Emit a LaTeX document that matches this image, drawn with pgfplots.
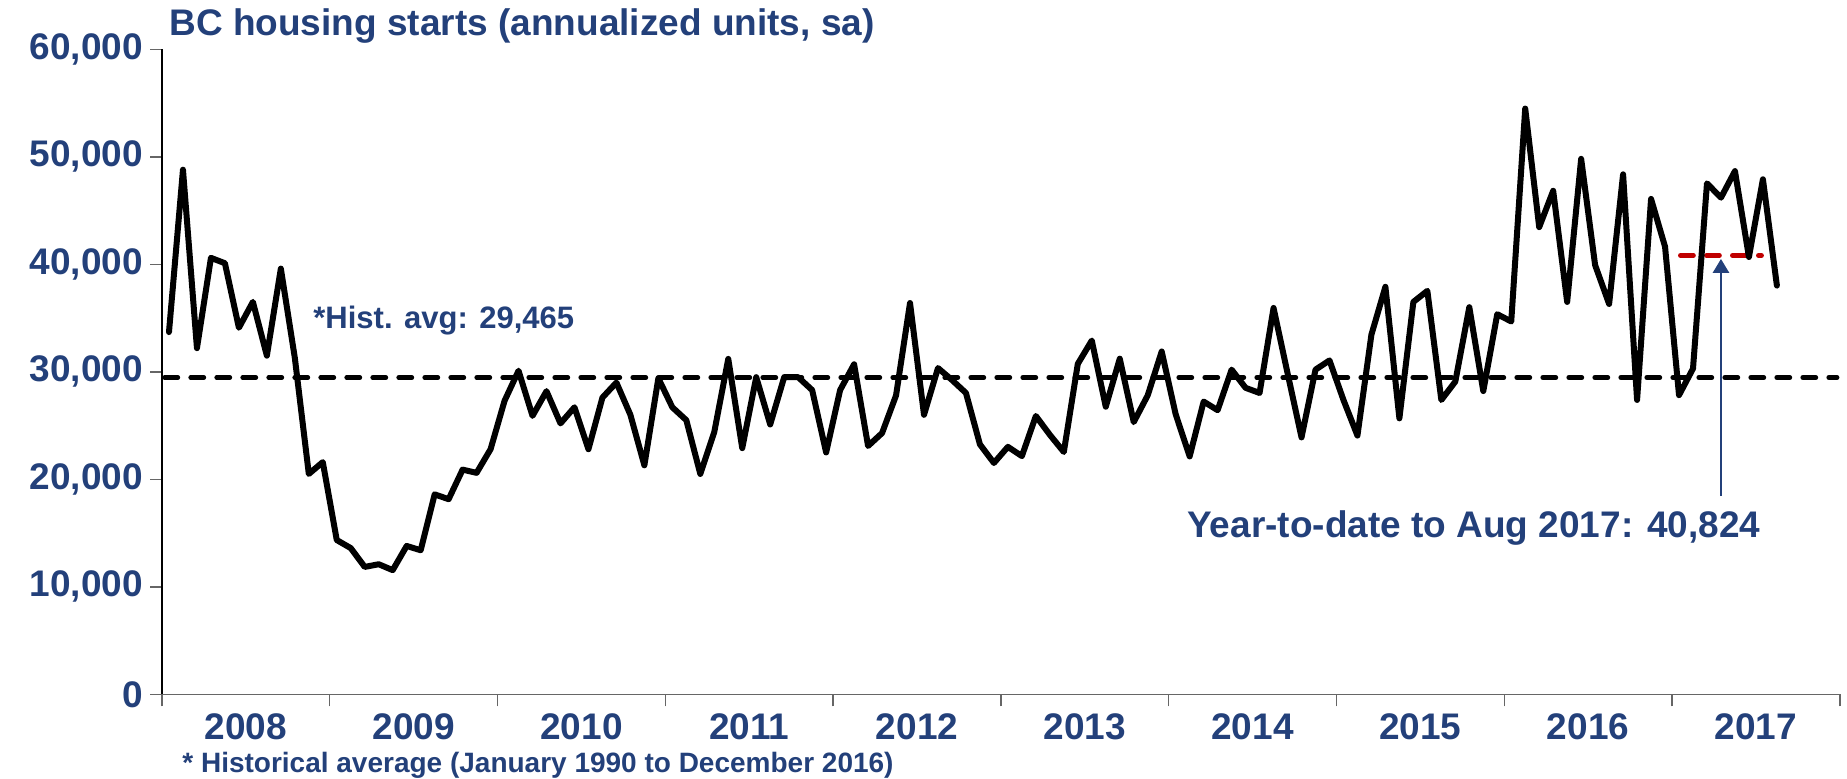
\documentclass[border=0pt]{standalone}
\usepackage{fontspec}
\setmainfont{Liberation Sans}
\usepackage{pgfplots}
\usepackage{pgfplotstable}
\pgfplotsset{compat=1.18}
\usetikzlibrary{arrows.meta}
\definecolor{navy}{RGB}{35,64,122}
\definecolor{dred}{RGB}{192,0,0}
\pgfplotstableread{
x y
0 33700
1 48800
2 32200
3 40600
4 40100
5 34100
6 36500
7 31500
8 39600
9 31300
10 20500
11 21600
12 14350
13 13600
14 11850
15 12100
16 11550
17 13800
18 13400
19 18600
20 18150
21 20900
22 20600
23 22800
24 27300
25 30100
26 25900
27 28200
28 25200
29 26700
30 22800
31 27600
32 29000
33 26000
34 21300
35 29400
36 26700
37 25500
38 20500
39 24400
40 31200
41 22900
42 29500
43 25100
44 29500
45 29500
46 28300
47 22500
48 28300
49 30700
50 23100
51 24300
52 27800
53 36400
54 26000
55 30350
56 29240
57 28030
58 23250
59 21520
60 23020
61 22160
62 25890
63 24140
64 22540
65 30740
66 32910
67 26750
68 31220
69 25320
70 27810
71 31890
72 26050
73 22130
74 27230
75 26430
76 30200
77 28510
78 28030
79 35940
80 29880
81 23900
82 30200
83 31060
84 27380
85 24070
86 33460
87 37910
88 25670
89 36500
90 37530
91 27380
92 29090
93 36010
94 28210
95 35360
96 34680
97 54490
98 43460
99 46840
100 36500
101 49810
102 39920
103 36310
104 48370
105 27380
106 46080
107 41640
108 27830
109 30300
110 47530
111 46200
112 48670
113 40680
114 47910
115 38020
}\starts
\newcommand\lab{\fontsize{18.5}{22}\selectfont\bfseries}
\begin{document}
\begin{tikzpicture}
\useasboundingbox (-81pt,-41.85pt) rectangle (842.5pt,347.15pt);
\begin{axis}[
  at={(0,0)}, anchor=south west,
  scale only axis, width=838.9pt, height=322.5pt,
  xmin=-0.5, xmax=119.5, ymin=0, ymax=60000,
  axis x line*=bottom, axis y line*=left,
  x axis line style={-, gray!80!black, line width=0.8pt},
  y axis line style={-, black, line width=0.8pt},
  tick align=outside, major tick length=6pt,
  tick style={gray!80!black, line width=0.7pt},
  xtick={-0.5,11.5,23.5,35.5,47.5,59.5,71.5,83.5,95.5,107.5,119.5},
  xticklabels={2008,2009,2010,2011,2012,2013,2014,2015,2016,2017},
  x tick label as interval,
  ytick={0,10000,20000,30000,40000,50000,60000},
  scaled y ticks=false,
  /pgf/number format/.cd, fixed, 1000 sep={,}, assume math mode=true,
  /pgfplots/.cd,
  yticklabel style={font=\lab, text=navy},
  xticklabel style={font=\lab, text=navy},
  clip=false,
]
\addplot[black, line width=2.4pt, dash pattern=on 6.5pt off 6.5pt, line cap=round] coordinates {(-0.3,29465) (119.3,29465)};
\addplot[dred, line width=2.4pt, dash pattern=on 6.5pt off 6.5pt, line cap=round] coordinates {(108.1,40824) (113.9,40824)};
\addplot[black, line width=3pt, line join=round, line cap=round] table[x=x,y=y] {\starts};
\draw[navy, line width=1.4pt, -{Triangle[length=7pt,width=8pt]}] (axis cs:111,18440) -- (axis cs:111,40500);
\node[anchor=base west, inner sep=0, text=navy, font=\lab, xshift=3.5pt, yshift=7.15pt] at (rel axis cs:0,1) {BC housing starts (annualized units, sa)};
\node[anchor=base west, inner sep=0, text=navy, font=\fontsize{15.5}{18}\selectfont\bfseries] at (axis cs:10.3,34030) {*Hist. avg: 29,465};
\node[anchor=base west, inner sep=0, text=navy, font=\lab] at (axis cs:72.8,14630) {Year-to-date to Aug 2017: 40,824};
\node[anchor=base west, inner sep=0, text=navy, font=\fontsize{14}{16}\selectfont\bfseries, xshift=10pt, yshift=-38.85pt] at (rel axis cs:0,0) {* Historical average (January 1990 to December 2016)};
\end{axis}
\end{tikzpicture}
\end{document}
